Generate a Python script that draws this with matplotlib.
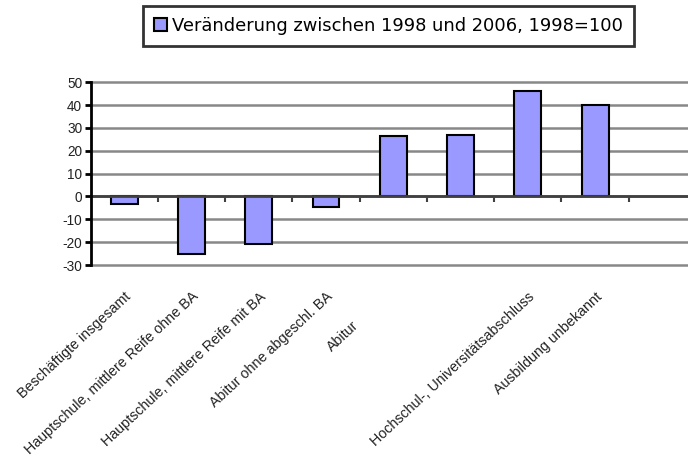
import numpy as np
import matplotlib.pyplot as plt
from matplotlib.patches import Patch

plt.rcParams['axes.unicode_minus'] = False

# data
kategorien = ['Beschäftigte insgesamt',
              'Hauptschule, mittlere Reife ohne BA',
              'Hauptschule, mittlere Reife mit BA',
              'Abitur ohne abgeschl. BA',
              'Abitur',
              '',
              'Hochschul-, Universitätsabschluss',
              'Ausbildung unbekannt']
werte = [-3.3, -25.1, -21.0, -4.4, 26.6, 27.0, 46.1, 39.9]
legende = 'Veränderung zwischen 1998 und 2006, 1998=100'

balken_farbe = '#9999FF'
txt_farbe = '#222222'
winkel = 43

fig = plt.figure(figsize=(6.88, 4.63), dpi=100)
ax = fig.add_axes([90.5 / 688, 1 - 265 / 463, (696 - 90.5) / 688, (265 - 82.3) / 463])

x = np.arange(len(werte))
ax.bar(x, werte, width=0.4, color=balken_farbe, edgecolor='black', linewidth=1.5, zorder=3)

ax.set_xlim(-0.5, len(werte) + 0.5)
ax.set_ylim(-30, 50)
ax.set_yticks(np.arange(-30, 51, 10))

# gridlines
ax.yaxis.grid(True, color='#888888', linewidth=1.8, zorder=0)
ax.set_axisbelow(True)
for gl in ax.get_ygridlines():
    gl.set_clip_on(False)

# spines
for s in ['top', 'right']:
    ax.spines[s].set_visible(False)
ax.spines['left'].set_linewidth(2)
ax.spines['left'].set_color('black')
ax.spines['left'].set_zorder(5)
ax.spines['bottom'].set_position(('data', 0))
ax.spines['bottom'].set_color('#404040')
ax.spines['bottom'].set_linewidth(2)
ax.spines['bottom'].set_zorder(4)

ax.tick_params(axis='y', direction='out', length=4, width=2, color='black',
               labelsize=9.8, labelcolor=txt_farbe, pad=2)
for t in ax.get_yticklabels():
    t.set_family('Liberation Sans')

# category labels hang off the zero line
labels_pos = [i for i, k in enumerate(kategorien) if k and k != 'Abitur']
ax.set_xticks(labels_pos)
ax.set_xticklabels([kategorien[i] for i in labels_pos], rotation=winkel, ha='right',
                   va='top', rotation_mode='anchor', fontsize=10.3,
                   family='Liberation Sans', color=txt_farbe)
ax.tick_params(axis='x', which='major', length=0, pad=67)
ax.set_xticks(np.arange(len(werte)) + 0.5, minor=True)
ax.tick_params(axis='x', which='minor', direction='out', length=4, width=1.5, color='#404040')

# the 'Abitur' label sits lower in the original
i_abi = kategorien.index('Abitur')
ax.annotate('Abitur', xy=(i_abi, 0), xycoords='data', xytext=(-29.5, -87.5),
            textcoords='offset points', rotation=winkel, rotation_mode='anchor',
            ha='right', va='top', fontsize=10.3, family='Liberation Sans',
            color=txt_farbe, annotation_clip=False)

leg = fig.legend(handles=[Patch(facecolor=balken_farbe, edgecolor='black', linewidth=1.5)],
                 labels=[legende], loc='center',
                 bbox_to_anchor=((143 + 634) / 2 / 688, 1 - 26 / 463),
                 fontsize=12.9, frameon=True, fancybox=False, handlelength=0.7,
                 handleheight=0.7, handletextpad=0.25, borderpad=0.62, borderaxespad=0)
leg.get_frame().set_edgecolor('black')
leg.get_frame().set_linewidth(2)
for t in leg.get_texts():
    t.set_color('black')

fig.savefig('out.png', dpi=100)
